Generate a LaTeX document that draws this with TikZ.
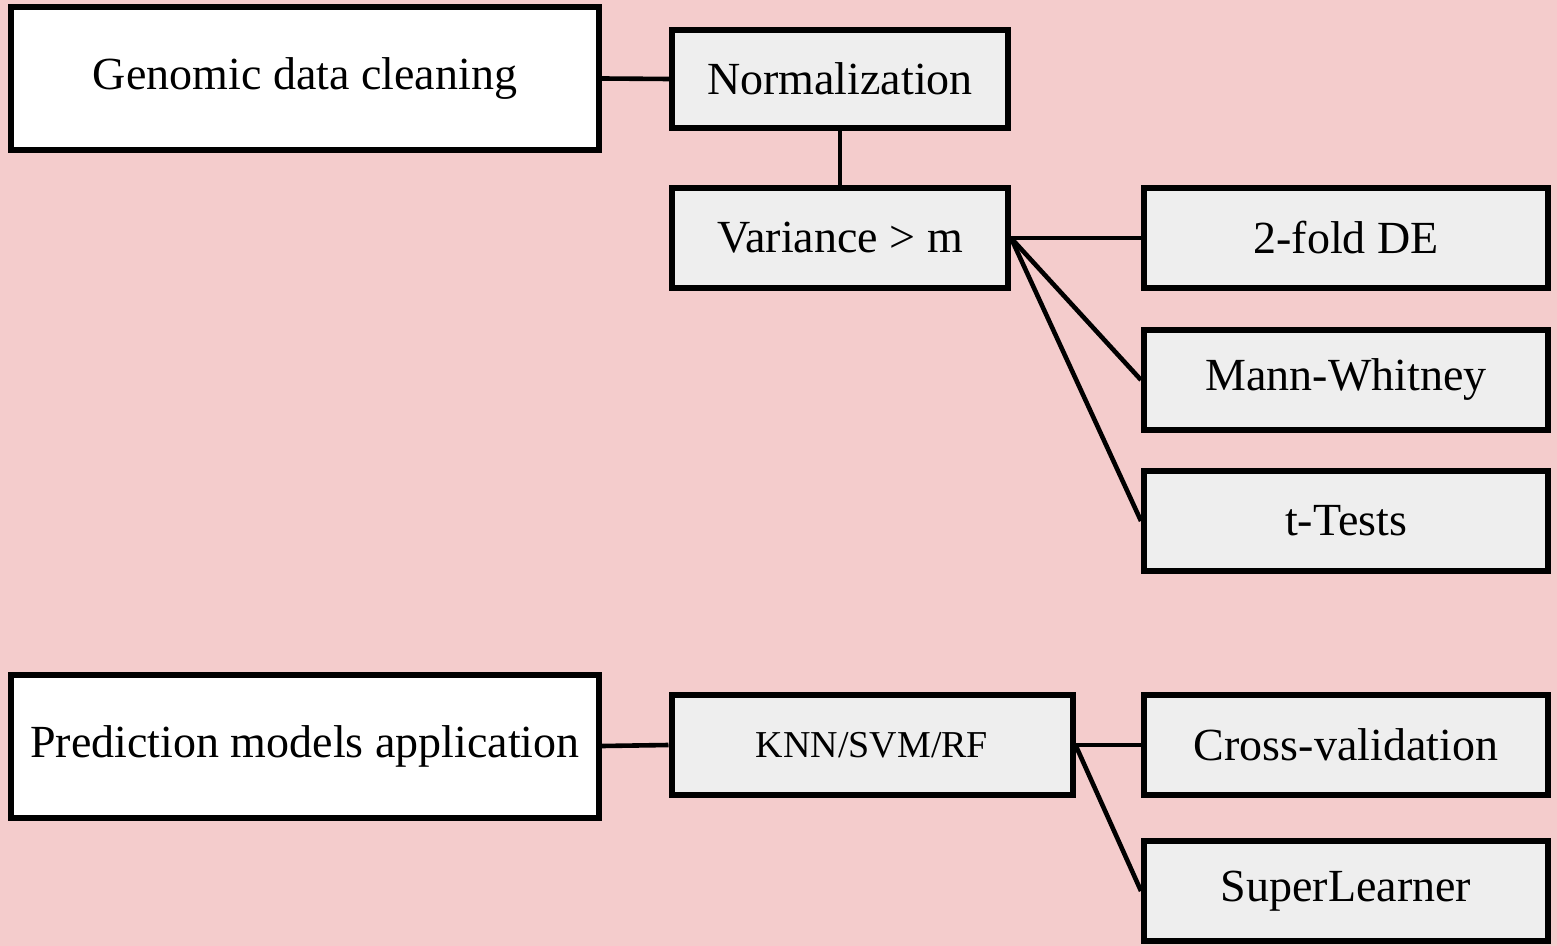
\documentclass[tikz,border=0pt]{standalone}
\usepackage{fontspec}
\setmainfont{Liberation Serif}
\usepackage{tikz}
\usetikzlibrary{positioning}
\definecolor{bgpink}{RGB}{244,204,204}
\definecolor{boxgray}{RGB}{238,238,238}
\tikzset{
    mainbox/.style={draw, line width=3pt, fill=white, inner sep=0pt,
        minimum width=294pt, minimum height=71.5pt, font=\fontsize{23}{27}\selectfont},
    subbox/.style={draw, line width=3pt, fill=boxgray, inner sep=0pt,
        minimum width=202pt, minimum height=50pt, font=\fontsize{23}{27}\selectfont},
    link/.style={line width=2.3pt}
}

\begin{document}
\begin{tikzpicture}[x=0.5pt,y=0.5pt,yscale=-1,xscale=1]
		% background, fixes the picture size
		\fill [bgpink] (0,0) rectangle (1557,946);
		\useasboundingbox (0,0) rectangle (1557,946);
		
		% Text Node
		\node [mainbox] (clean) at (305,78.5) {Genomic data cleaning};
		% Text Node
		\node [subbox, minimum width=168pt, minimum height=49pt] (norm) at (840,79) {Normalization};
		% Text Node
		\node [subbox, minimum width=168pt] (var) at (840,238) {Variance > m};
		% Text Node
		\node [subbox] (fold) at (1346,238) {2-fold DE};
		% Text Node
		\node [subbox] (mann) at (1346,380) {Mann-Whitney};
		% Text Node
		\node [subbox] (ttest) at (1346,521) {t-Tests};
		
		% Text Node
		\node [mainbox] (pred) at (305,746) {Prediction models application};
		% Text Node
		\node [subbox, minimum width=200.5pt, font=\fontsize{19}{23}\selectfont] (knn) at (872,745) {KNN/SVM/RF};
		% Text Node
		\node [subbox] (cross) at (1346,745) {Cross-validation};
		% Text Node
		\node [subbox] (super) at (1346,891) {SuperLearner};
		
		% Connectors
		\draw [link] (clean.east) -- (norm.west);
		\draw [link] (norm.south) -- (var.north);
		\draw [link] (var.east) -- (fold.west);
		\draw [link] (var.east) -- (mann.west);
		\draw [link] (var.east) -- (ttest.west);
		\draw [link] (pred.east) -- (knn.west);
		\draw [link] (knn.east) -- (cross.west);
		\draw [link] (knn.east) -- (super.west);
		
		\end{tikzpicture}
\end{document}
